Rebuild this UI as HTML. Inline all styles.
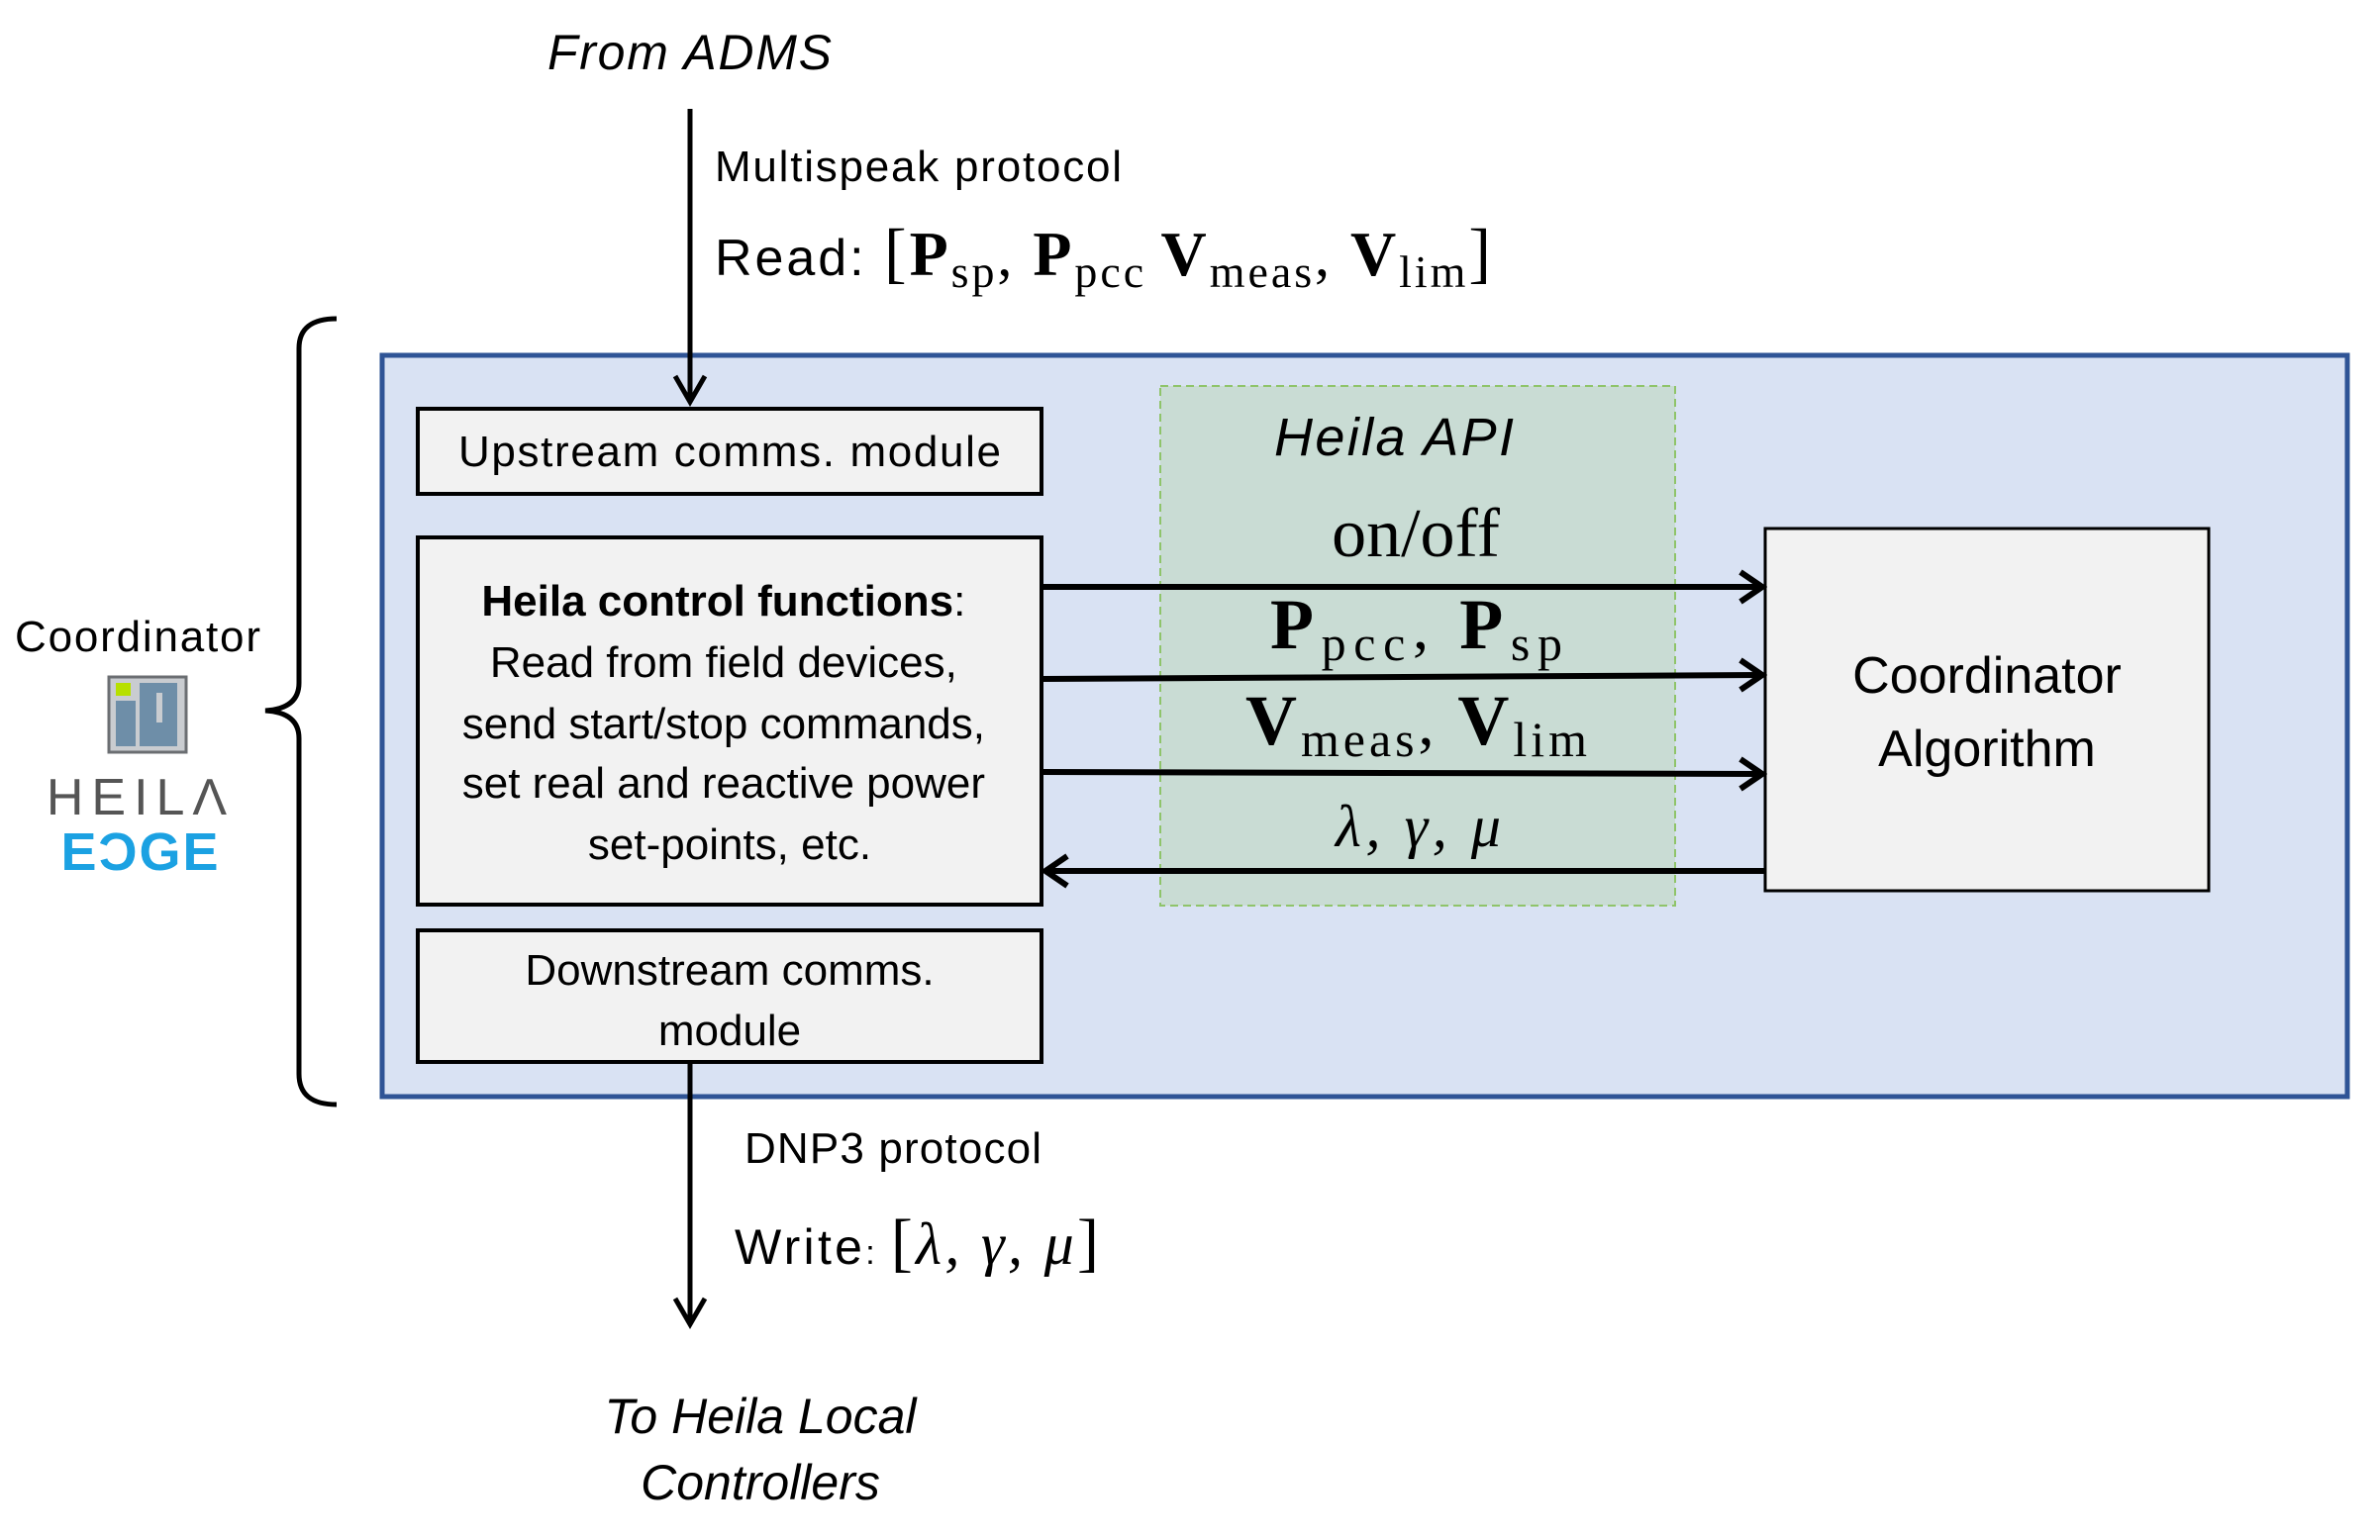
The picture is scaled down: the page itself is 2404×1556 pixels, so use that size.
<!DOCTYPE html>
<html><head><meta charset="utf-8"><style>
html,body{margin:0;padding:0;background:#fff;}
svg{display:block;}
.s{font-family:"Liberation Sans",sans-serif;}
.m{font-family:"Liberation Serif",serif;}
</style></head><body>
<svg width="2404" height="1556" viewBox="0 0 2404 1556" xmlns="http://www.w3.org/2000/svg">
<!-- top text -->
<text class="s" x="553" y="70" font-size="50" font-style="italic" textLength="287">From ADMS</text>
<text class="s" x="722" y="183" font-size="44" textLength="411">Multispeak protocol</text>
<text x="722" y="278" textLength="784"><tspan class="s" font-size="52">Read: </tspan><tspan class="m" font-size="68">[</tspan><tspan class="m" font-weight="bold" font-size="64">P</tspan><tspan class="m" font-size="46" dy="12">sp</tspan><tspan class="m" font-size="60" dy="-12">, </tspan><tspan class="m" font-weight="bold" font-size="64">P</tspan><tspan class="m" font-size="46" dy="12">pcc </tspan><tspan class="m" font-weight="bold" font-size="64" dy="-12">V</tspan><tspan class="m" font-size="46" dy="12">meas</tspan><tspan class="m" font-size="60" dy="-12">, </tspan><tspan class="m" font-weight="bold" font-size="64">V</tspan><tspan class="m" font-size="46" dy="12">lim</tspan><tspan class="m" font-size="68" dy="-12">]</tspan></text>

<!-- brace -->
<path d="M340,322 Q302,322 302,352 L302,690 Q302,716 268,718 Q302,720 302,746 L302,1085 Q302,1116 340,1116" fill="none" stroke="#000" stroke-width="5"/>

<!-- coordinator label & logo -->
<text class="s" x="139" y="658" font-size="44" text-anchor="middle" textLength="248">Coordinator</text>
<rect x="110" y="684" width="78" height="76" fill="#c9ccd0" stroke="#6b6e72" stroke-width="3"/>
<rect x="117" y="690" width="15" height="13" fill="#b7e000"/>
<rect x="117" y="708" width="20" height="46" fill="#6e8ea8"/>
<rect x="141" y="690" width="38" height="64" fill="#6e8ea8"/>
<rect x="158" y="700" width="6" height="30" fill="#c9ccd0"/>
<text class="s" x="142" y="823" font-size="52" fill="#555" text-anchor="middle" letter-spacing="8">HEILΛ</text>
<text class="s" x="142" y="879" font-size="54" font-weight="bold" fill="#1ba1e2" text-anchor="middle" letter-spacing="2">EƆGE</text>

<!-- blue container -->
<rect x="386" y="359" width="1985" height="749" fill="#d9e2f3" stroke="#2f5496" stroke-width="5"/>

<!-- top arrow -->
<line x1="697" y1="110" x2="697" y2="404" stroke="#000" stroke-width="5"/>
<polyline points="682,380 697,406 712,380" fill="none" stroke="#000" stroke-width="5"/>

<!-- green API area -->
<rect x="1172" y="390" width="520" height="525" fill="#c9dcd4" stroke="#8fc46a" stroke-width="2" stroke-dasharray="8,5"/>
<text class="s" x="1408" y="460" font-size="54" font-style="italic" text-anchor="middle" textLength="242">Heila API</text>
<text class="m" x="1430" y="562" font-size="70" text-anchor="middle">on/off</text>
<text x="1283" y="655" textLength="295"><tspan class="m" font-weight="bold" font-size="72">P</tspan><tspan class="m" font-size="50" dy="12">pcc</tspan><tspan class="m" font-size="64" dy="-12">, </tspan><tspan class="m" font-weight="bold" font-size="72">P</tspan><tspan class="m" font-size="50" dy="12">sp</tspan></text>
<text x="1258" y="752" textLength="345"><tspan class="m" font-weight="bold" font-size="72">V</tspan><tspan class="m" font-size="50" dy="12">meas</tspan><tspan class="m" font-size="64" dy="-12">, </tspan><tspan class="m" font-weight="bold" font-size="72">V</tspan><tspan class="m" font-size="50" dy="12">lim</tspan></text>
<text class="m" x="1349" y="855" font-size="60" font-style="italic" textLength="167">λ, γ, μ</text>

<!-- boxes -->
<rect x="422" y="413" width="630" height="86" fill="#f2f2f2" stroke="#000" stroke-width="4"/>
<text class="s" x="737" y="471" font-size="44" text-anchor="middle" textLength="548">Upstream comms. module</text>

<rect x="422" y="543" width="630" height="371" fill="#f2f2f2" stroke="#000" stroke-width="4"/>
<text class="s" font-size="44" text-anchor="middle">
<tspan x="737" y="622" font-weight="bold">Heila control functions<tspan font-weight="normal">:</tspan></tspan>
<tspan x="737" y="684">Read from field devices,</tspan>
<tspan x="737" y="746">send start/stop commands,</tspan>
<tspan x="737" y="806">set real and reactive power</tspan>
<tspan x="737" y="868">set-points, etc.</tspan>
</text>

<rect x="422" y="940" width="630" height="133" fill="#f2f2f2" stroke="#000" stroke-width="4"/>
<text class="s" font-size="44" text-anchor="middle"><tspan x="737" y="995">Downstream comms.</tspan><tspan x="737" y="1056">module</tspan></text>

<rect x="1783" y="534" width="448" height="366" fill="#f2f2f2" stroke="#000" stroke-width="3"/>
<text class="s" font-size="52" text-anchor="middle"><tspan x="2007" y="700">Coordinator</tspan><tspan x="2007" y="774">Algorithm</tspan></text>

<!-- horizontal arrows -->
<g stroke="#000" stroke-width="6" fill="none">
<line x1="1052" y1="593" x2="1778" y2="593"/>
<polyline points="1758,578 1780,593 1758,608"/>
<line x1="1052" y1="686" x2="1778" y2="682"/>
<polyline points="1758,667 1780,682 1758,697"/>
<line x1="1052" y1="780" x2="1778" y2="782"/>
<polyline points="1758,767 1780,782 1758,797"/>
<line x1="1058" y1="880" x2="1783" y2="880"/>
<polyline points="1078,865 1056,880 1078,895"/>
</g>

<!-- bottom arrow -->
<line x1="697" y1="1073" x2="697" y2="1334" stroke="#000" stroke-width="5"/>
<polyline points="682,1312 697,1338 712,1312" fill="none" stroke="#000" stroke-width="5"/>

<text class="s" x="752" y="1175" font-size="44" textLength="300">DNP3 protocol</text>
<text x="742" y="1277" textLength="368"><tspan class="s" font-size="50">Write</tspan><tspan class="s" font-size="34">: </tspan><tspan class="m" font-size="66">[</tspan><tspan class="m" font-style="italic" font-size="60">λ, γ, μ</tspan><tspan class="m" font-size="66">]</tspan></text>

<text class="s" font-size="50" font-style="italic" text-anchor="middle"><tspan x="768" y="1448">To Heila Local</tspan><tspan x="768" y="1515">Controllers</tspan></text>
</svg>
</body></html>
